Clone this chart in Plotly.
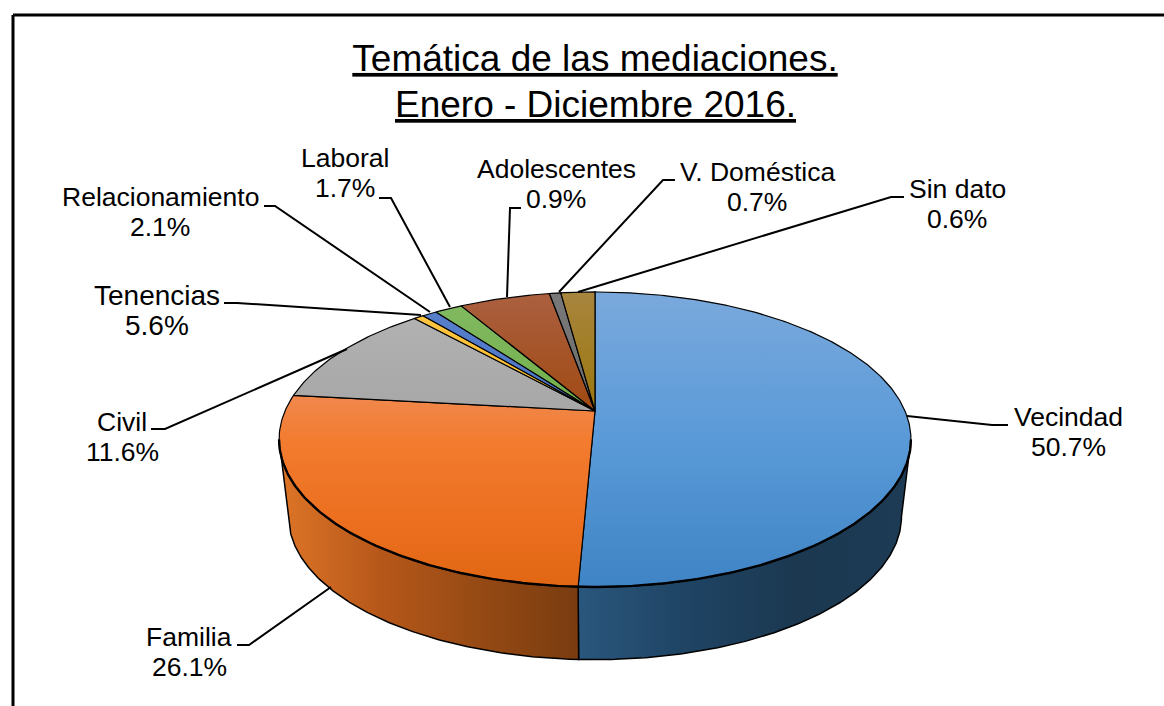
import numpy as np
import plotly.graph_objects as go

# ---- data ----
categories = ["Vecindad", "Familia", "Civil", "Tenencias", "Relacionamiento",
              "Laboral", "Adolescentes", "V. Doméstica", "Sin dato"]
values = [50.7, 26.1, 11.6, 5.6, 2.1, 1.7, 0.9, 0.7, 0.6]
# order in which the slices run clockwise from twelve o'clock
slice_order = ["Vecindad", "Familia", "Civil", "Sin dato", "Adolescentes",
               "Laboral", "Tenencias", "V. Doméstica", "Relacionamiento"]
title_lines = ["Temática de las mediaciones.", "Enero - Diciembre 2016."]

# ---- style ----
top_colors = {
    "Vecindad": ["#7aa9dc", "#5a9ad8", "#3f84c5"],
    "Familia": ["#eea27a", "#ee9060", "#f37c30", "#ec7020", "#e26714"],
    "Civil": ["#b4b4b4", "#a4a4a4", "#8e8e8e"],
    "Sin dato": ["#ffc848", "#fdb71e", "#e8a400"],
    "Adolescentes": ["#5a80cc", "#4472c4", "#3a66b4"],
    "Laboral": ["#82ba62", "#6fad46", "#64a03c"],
    "Tenencias": ["#ab6040", "#9e4408", "#983f02"],
    "V. Doméstica": ["#787878", "#6c6c6c", "#606060"],
    "Relacionamiento": ["#a8853e", "#977400", "#8c6c00"],
}
wall_colors = {
    "Vecindad": ["#2a577d", "#1f4464", "#1b3850", "#1e3b56"],
    "Familia": ["#dc7426", "#b6571a", "#964a14", "#7a3c10"],
}
label_pos = {  # centre of each two-line label, in page pixels
    "Vecindad": (1068, 432), "Familia": (189, 652), "Civil": (122, 437),
    "Tenencias": (157, 310), "Relacionamiento": (160, 212), "Laboral": (345, 173),
    "Adolescentes": (556, 184), "V. Doméstica": (757, 187), "Sin dato": (957, 204),
}
label_size = {"Tenencias": 28}
LABEL_SIZE, LINE_OFFSET = 26.5, 15
leaders = {
    "Vecindad": [(907, 416), (992, 425), (1008, 425)],
    "Familia": [(331, 587), (249, 645), (237, 645)],
    "Civil": [(347, 349), (165, 429), (151, 429)],
    "Tenencias": [(224, 303), (237, 303), (421, 315)],
    "Relacionamiento": [(264, 206), (275, 206), (430, 312)],
    "Laboral": [(379, 198), (391, 198), (450, 307)],
    "Adolescentes": [(521, 208), (510, 208), (507, 297)],
    "V. Doméstica": [(675, 180), (663, 180), (559, 292)],
    "Sin dato": [(904, 197), (891, 197), (578, 292)],
}

# ---- perspective disc: maps a pie angle to page pixels ----
CX, APEX_Y = 595, 411
A, B, K = 142, 310, 0.193
BOTTOM_APEX_Y, BOTTOM_SCALE = 489, 0.97
FONT = "Liberation Sans, Arial, sans-serif"


def top_edge(t):
    return CX + B * np.sin(t) / (1 + K * np.cos(t)), APEX_Y - A * np.cos(t) / (1 + K * np.cos(t))


def bottom_edge(t):
    return (CX + BOTTOM_SCALE * B * np.sin(t) / (1 + K * np.cos(t)),
            BOTTOM_APEX_Y - BOTTOM_SCALE * A * np.cos(t) / (1 + K * np.cos(t)))


val = dict(zip(categories, values))
total = sum(values)
fig = go.Figure()


def scale(cols):
    n = len(cols) - 1
    return [[i / n, c] for i, c in enumerate(cols)]


# angular span of each slice
spans = {}
run = 0.0
for name in slice_order:
    spans[name] = (run / total * 2 * np.pi, (run + val[name]) / total * 2 * np.pi)
    run += val[name]

# side walls
TANGENT_R = np.pi - np.arccos(K)     # right silhouette
TANGENT_L = np.pi + np.arccos(K)     # left silhouette
div = spans["Vecindad"][1]
for name, t0, t1, g0, g1 in [("Vecindad", TANGENT_R, div, 576, 905),
                             ("Familia", div, TANGENT_L, 283, 576)]:
    ts = np.linspace(t0, t1, 160)
    tx, ty = top_edge(ts)
    bx, by = bottom_edge(ts[::-1])
    fig.add_trace(go.Scatter(
        x=np.r_[tx, bx, tx[0]], y=np.r_[ty, by, ty[0]], mode="lines", fill="toself",
        line=dict(color="black", width=1.5), hoverinfo="skip", showlegend=False,
        fillgradient=dict(type="horizontal", start=g0, stop=g1,
                          colorscale=scale(wall_colors[name]))))

# top faces
for name in slice_order:
    t0, t1 = spans[name]
    ts = np.linspace(t0, t1, max(int((t1 - t0) * 90), 6))
    ex, ey = top_edge(ts)
    fig.add_trace(go.Scatter(
        x=np.r_[CX, ex, CX], y=np.r_[APEX_Y, ey, APEX_Y], mode="lines", fill="toself",
        name=name, line=dict(color="black", width=1.2), hoverinfo="skip", showlegend=False,
        fillgradient=dict(type="vertical", start=292, stop=587,
                          colorscale=scale(top_colors[name]))))

# heavier front rim
ts = np.linspace(TANGENT_R, TANGENT_L, 240)
rx, ry = top_edge(ts)
fig.add_trace(go.Scatter(x=rx, y=ry, mode="lines", line=dict(color="black", width=2.4),
                         hoverinfo="skip", showlegend=False))

# leader lines
for name, pts in leaders.items():
    fig.add_trace(go.Scatter(x=[p[0] for p in pts], y=[p[1] for p in pts], mode="lines",
                             line=dict(color="black", width=2), hoverinfo="skip",
                             showlegend=False))

# labels: name line and value line
annotations = []
for c in categories:
    lx, ly = label_pos[c]
    for text, dy in [(c, -LINE_OFFSET), (f"{val[c]}%", LINE_OFFSET)]:
        annotations.append(dict(x=lx, y=ly + dy, xref="x", yref="y", text=text,
                                showarrow=False, xanchor="center", yanchor="middle",
                                font=dict(family=FONT, size=label_size.get(c, LABEL_SIZE),
                                          color="black")))
# second title line, placed to match the tighter line spacing
annotations.append(dict(x=595, y=104, xref="x", yref="y", text=f"<u>{title_lines[1]}</u>",
                        showarrow=False, xanchor="center", yanchor="middle",
                        font=dict(family=FONT, size=37, color="black")))

frame = [dict(type="line", x0=13, x1=13, y0=15, y1=706, xref="x", yref="y",
              line=dict(color="black", width=3)),
         dict(type="line", x0=13, x1=1164, y0=15, y1=15, xref="x", yref="y",
              line=dict(color="black", width=3))]

fig.update_layout(
    width=1164, height=706, margin=dict(l=0, r=0, t=0, b=0),
    paper_bgcolor="white", plot_bgcolor="white", showlegend=False,
    title=dict(text=f"<u>{title_lines[0]}</u>",
               x=595 / 1164, xanchor="center", xref="paper",
               y=1 - 58 / 706, yanchor="middle", yref="container",
               font=dict(family=FONT, size=37, color="black")),
    xaxis=dict(range=[0, 1164], visible=False, fixedrange=True),
    yaxis=dict(range=[706, 0], visible=False, fixedrange=True),
    annotations=annotations, shapes=frame,
)
fig.write_html("out.html", config={"displayModeBar": False},
               post_script="document.body.style.margin='0';document.body.style.overflow='hidden';")
